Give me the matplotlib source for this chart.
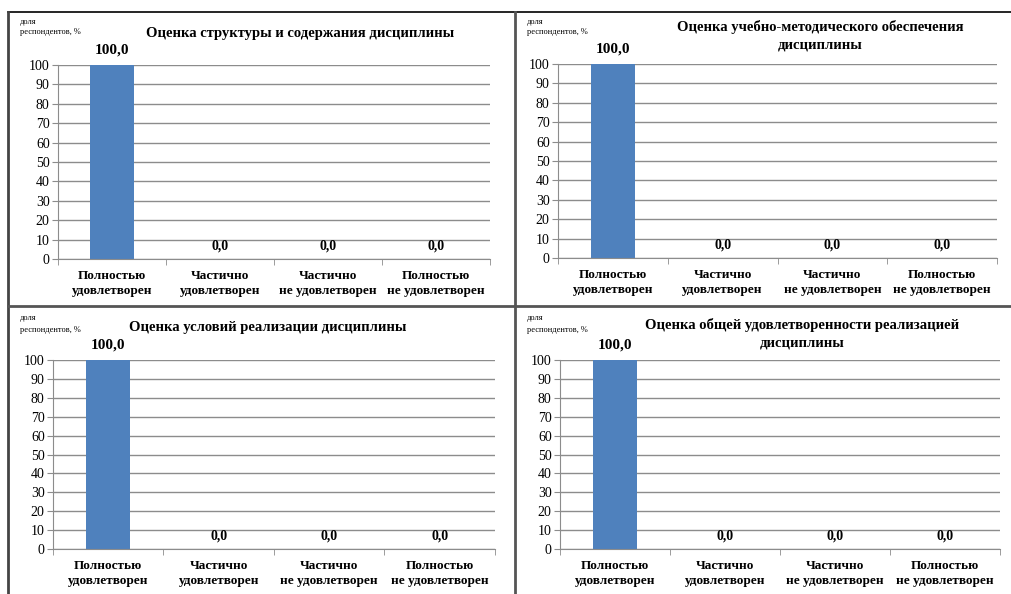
import matplotlib
matplotlib.use("Agg")
from matplotlib import pyplot as plt
import numpy as np

plt.rcParams['font.family'] = ['Liberation Serif', 'DejaVu Serif']

# data
categories = ['Полностью\nудовлетворен', 'Частично\nудовлетворен',
              'Частично\nне удовлетворен', 'Полностью\nне удовлетворен']
titles = ['Оценка структуры и содержания дисциплины',
          'Оценка учебно-методического обеспечения\nдисциплины',
          'Оценка условий реализации дисциплины',
          'Оценка общей удовлетворенности реализацией\nдисциплины']
values_1 = [100.0, 0.0, 0.0, 0.0]
values_2 = [100.0, 0.0, 0.0, 0.0]
values_3 = [100.0, 0.0, 0.0, 0.0]
values_4 = [100.0, 0.0, 0.0, 0.0]
yticks = [0, 10, 20, 30, 40, 50, 60, 70, 80, 90, 100]
ylabel = 'доля\nреспондентов, %'

W, H = 1012, 594
fig = plt.figure(figsize=(W / 100, H / 100), dpi=100)

def box(x0, y0, x1, y1):
    # pixel box (top-left origin) -> figure fraction rect
    return [x0 / W, 1 - y1 / H, (x1 - x0) / W, (y1 - y0) / H]

def px(x, y):
    return x / W, 1 - y / H

# frame lines
frame = fig.add_axes([0, 0, 1, 1])
frame.set_xlim(0, W)
frame.set_ylim(H, 0)
frame.axis('off')
frame.plot([8, W], [12, 12], color='black', lw=1.2)
frame.plot([8, 8], [12, H], color='#444444', lw=2)
frame.plot([515, 515], [12, H], color='#555555', lw=2)
frame.plot([8, W], [306, 306], color='#555555', lw=2)

panels = [
    (values_1, titles[0], (58, 65, 490, 259), (300, 33), (20, 27)),
    (values_2, titles[1], (558, 64, 997, 258), (820, 36), (527, 27)),
    (values_3, titles[2], (53, 360, 495, 549), (268, 327), (20, 324)),
    (values_4, titles[3], (560, 360, 1000, 549), (802, 334), (527, 324)),
]

x = np.arange(len(categories))
for vals, title, bx, tpos, lpos in panels:
    ax = fig.add_axes(box(*bx))
    ax.bar(x, vals, width=0.4, color='#4F81BD', zorder=3)
    ax.set_xlim(-0.5, len(categories) - 0.5)
    ax.set_ylim(0, 100)
    ax.set_yticks(yticks)
    ax.set_yticklabels([str(t) for t in yticks], fontsize=10)
    ax.yaxis.grid(True, color='#8c8c8c', lw=1)
    ax.set_axisbelow(True)
    ax.set_xticks(x)
    ax.set_xticklabels(categories, fontsize=9.5, fontweight='bold', linespacing=1.3)
    ax.set_xticks(np.arange(len(categories) + 1) - 0.5, minor=True)
    ax.tick_params(axis='x', which='major', length=0, pad=8)
    ax.tick_params(axis='x', which='minor', length=4, color='#8c8c8c')
    ax.tick_params(axis='y', length=4, color='#8c8c8c', pad=2)
    for s in ['top', 'right']:
        ax.spines[s].set_visible(False)
    ax.spines['left'].set_color('#8c8c8c')
    ax.spines['bottom'].set_color('#8c8c8c')
    ax.spines['bottom'].set_zorder(4)
    for xi, v in zip(x, vals):
        if v > 0:
            ax.annotate(f'{v:.1f}'.replace('.', ','), (xi, v), xytext=(0, 6),
                        textcoords='offset points', ha='center', va='bottom',
                        fontsize=11, fontweight='bold')
        else:
            ax.annotate(f'{v:.1f}'.replace('.', ','), (xi, v), xytext=(0, 5),
                        textcoords='offset points', ha='center', va='bottom',
                        fontsize=10, fontweight='bold')
    fig.text(*px(*tpos), title, ha='center', va='center', fontsize=10.5,
             fontweight='bold', linespacing=1.45)
    fig.text(*px(*lpos), ylabel, ha='left', va='center', fontsize=6,
             linespacing=1.5)

fig.savefig('out.png', dpi=100)
